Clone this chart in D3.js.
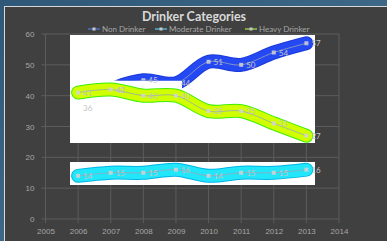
<!DOCTYPE html>
<html>
<head>
<meta charset="utf-8">
<script src="https://cdn.jsdelivr.net/npm/d3@7"></script>
<style>
  body { margin: 0; background: #3a6688; }
  svg { display: block; font-family: "Lato", "DejaVu Sans", sans-serif; }
</style>
</head>
<body>
<div class="chart"></div>
<script>
const years = [2006, 2007, 2008, 2009, 2010, 2011, 2012, 2013];
const nonDrinker = [36, 42, 45, 44, 51, 50, 54, 57];
const moderateDrinker = [14, 15, 15, 16, 14, 15, 15, 16];
const heavyDrinker = [41, 42, 40, 40, 35, 35, 31, 27];
const seriesNames = ["Non Drinker", "Moderate Drinker", "Heavy Drinker"];
const seriesColors = ["#4a6cc0", "#4fb0cf", "#8cc63f"];
const xTicks = [2005, 2006, 2007, 2008, 2009, 2010, 2011, 2012, 2013, 2014];
const yTicks = [0, 10, 20, 30, 40, 50, 60];

const W = 387, H = 241;

let svg = d3.select('.chart')
  .append('svg')
  .attr('width', W)
  .attr('height', H);

// backdrop behind the panel
let defs = svg.append('defs');
let grad = defs.append('linearGradient').attr('id', 'bg').attr('x1', 0).attr('y1', 0).attr('x2', 1).attr('y2', 1);
grad.append('stop').attr('offset', 0).attr('stop-color', '#2f5878');
grad.append('stop').attr('offset', 1).attr('stop-color', '#4a7696');
svg.append('rect').attr('width', W).attr('height', H).attr('fill', 'url(#bg)');

// chart panel
svg.append('rect')
  .attr('x', 4.5).attr('y', 6.5)
  .attr('width', W).attr('height', H)
  .attr('fill', '#404040')
  .attr('stroke', '#d8d8d8')
  .attr('stroke-width', 1);

let xScale = d3.scaleLinear().domain([2005, 2014]).range([45.5, 339]);
let yScale = d3.scaleLinear().domain([0, 60]).range([219, 34]);

// gridlines
svg.append('g')
  .selectAll('line')
  .data(xTicks)
  .enter()
  .append('line')
  .attr('x1', d => xScale(d)).attr('x2', d => xScale(d))
  .attr('y1', yScale(60)).attr('y2', yScale(0) + 4)
  .attr('stroke', '#5c5c5c');

svg.append('g')
  .selectAll('line')
  .data(yTicks)
  .enter()
  .append('line')
  .attr('x1', xScale(2005) - 4).attr('x2', xScale(2014))
  .attr('y1', d => yScale(d)).attr('y2', d => yScale(d))
  .attr('stroke', '#5c5c5c');

// axis labels
let xAxis = d3.axisBottom(xScale).tickValues(xTicks).tickFormat(d3.format('d')).tickSize(0).tickPadding(9);
svg.append('g')
  .attr('transform', 'translate(0,' + yScale(0) + ')')
  .call(xAxis)
  .call(g => g.select('.domain').remove())
  .selectAll('text')
  .attr('fill', '#a6a6a6')
  .style('font-size', '8px');

let yAxis = d3.axisLeft(yScale).tickValues(yTicks).tickSize(0).tickPadding(11);
svg.append('g')
  .attr('transform', 'translate(' + xScale(2005) + ',0)')
  .call(yAxis)
  .call(g => g.select('.domain').remove())
  .selectAll('text')
  .attr('fill', '#a6a6a6')
  .style('font-size', '8px');

// title + legend
svg.append('text')
  .attr('x', 194).attr('y', 21)
  .attr('text-anchor', 'middle')
  .attr('fill', '#d9d9d9')
  .style('font-size', '12.5px')
  .style('font-weight', 'bold')
  .text('Drinker Categories');

const legendX = [88, 155, 245];
seriesNames.forEach((name, i) => {
  let g = svg.append('g').attr('transform', 'translate(' + legendX[i] + ',29)');
  g.append('line').attr('x1', 0).attr('x2', 12).attr('stroke', seriesColors[i]).attr('stroke-width', 1.5);
  g.append('rect').attr('x', 4.5).attr('y', -1.5).attr('width', 3).attr('height', 3).attr('fill', '#c8c8c8');
  g.append('text').attr('x', 14).attr('y', 3).attr('fill', '#a6a6a6').style('font-size', '8px').text(name);
});

const allSeries = [nonDrinker, moderateDrinker, heavyDrinker];
let line = d3.line()
  .x((d, i) => xScale(years[i]))
  .y(d => yScale(d))
  .curve(d3.curveCatmullRom.alpha(0.5));

// white cover panels
svg.append('rect').attr('x', 70).attr('y', 35).attr('width', 245).attr('height', 108).attr('fill', '#ffffff');
svg.append('rect').attr('x', 70).attr('y', 162).attr('width', 245).attr('height', 23).attr('fill', '#ffffff');

// clip for the blue highlight
let clip = defs.append('clipPath').attr('id', 'blueclip');
clip.append('rect').attr('x', 114).attr('y', 0).attr('width', 68).attr('height', 80.5);
clip.append('rect').attr('x', 182).attr('y', 0).attr('width', 200).attr('height', 240);

const bands = [
  {data: nonDrinker, edge: '#1c3ad8', fill: '#2448f2', clip: 'url(#blueclip)'},
  {data: moderateDrinker, edge: '#00b4e4', fill: '#22e6fa', clip: null},
  {data: heavyDrinker, edge: '#3cf000', fill: '#d0ff00', clip: null}
];

bands.forEach(b => {
  let g = svg.append('g').attr('clip-path', b.clip);
  g.append('path').attr('d', line(b.data)).attr('fill', 'none')
    .attr('stroke', b.edge).attr('stroke-width', 14).attr('stroke-linecap', 'round').attr('stroke-linejoin', 'round');
  g.append('path').attr('d', line(b.data)).attr('fill', 'none')
    .attr('stroke', b.fill).attr('stroke-width', 12).attr('stroke-linecap', 'round').attr('stroke-linejoin', 'round');
  g.append('path').attr('d', line(b.data)).attr('fill', 'none')
    .attr('stroke', '#9aa8b8').attr('stroke-opacity', 0.8).attr('stroke-width', 1);
  g.selectAll('rect')
    .data(b.data)
    .enter()
    .append('rect')
    .attr('x', (d, i) => xScale(years[i]) - 2)
    .attr('y', d => yScale(d) - 2)
    .attr('width', 4).attr('height', 4)
    .attr('fill', '#d4d4d4').attr('fill-opacity', 0.85);
});

// data labels
allSeries.forEach(s => {
  svg.append('g')
    .selectAll('text')
    .data(s)
    .enter()
    .append('text')
    .attr('x', (d, i) => xScale(years[i]) + 5)
    .attr('y', d => yScale(d) + 3)
    .attr('fill', '#c4c4c4')
    .style('font-size', '8px')
    .text(d => d);
});
</script>
</body>
</html>
